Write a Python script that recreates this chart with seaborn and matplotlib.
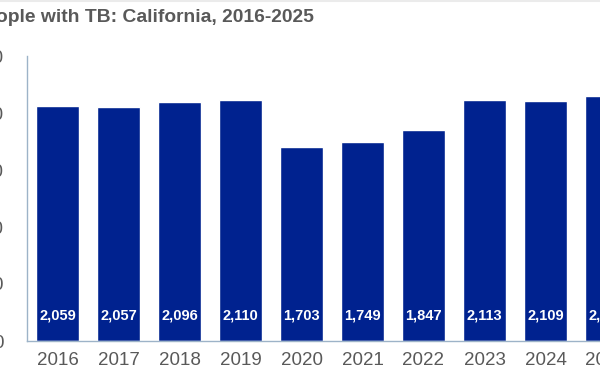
import matplotlib
matplotlib.use("Agg")
import matplotlib.pyplot as plt
import seaborn as sns
import pandas as pd
from matplotlib.ticker import FuncFormatter

years = ["2016", "2017", "2018", "2019", "2020", "2021", "2022", "2023", "2024", "2025"]
cases = [2059, 2057, 2096, 2110, 1703, 1749, 1847, 2113, 2109, 2147]
value_labels = ["2,059", "2,057", "2,096", "2,110", "1,703", "1,749", "1,847", "2,113", "2,109", "2,147"]
title = "Number of People with TB: California, 2016-2025"

df = pd.DataFrame({"year": years, "cases": cases})

sns.set_theme(style="white")
plt.rcParams["font.family"] = ["Liberation Sans", "DejaVu Sans"]

fig = plt.figure(figsize=(6, 3.85), dpi=100)
ax = fig.add_axes([27 / 600, 44 / 385, 610 / 600, 285 / 385])

sns.barplot(data=df, x="year", y="cases", color="#00228F", saturation=1,
            width=0.69, ax=ax)

ax.set_xlim(-0.5, 9.5)
ax.set_ylim(0, 2500)
ax.set_yticks([0, 500, 1000, 1500, 2000, 2500])
ax.yaxis.set_major_formatter(FuncFormatter(lambda v, p: f"{int(v):,}"))
ax.set_xlabel("")
ax.set_ylabel("")
ax.tick_params(axis="both", length=0, labelsize=13.5, colors="#595959")
ax.tick_params(axis="y", pad=17)
ax.tick_params(axis="x", pad=8)

for side in ["top", "right"]:
    ax.spines[side].set_visible(False)
for side in ["left", "bottom"]:
    ax.spines[side].set_color("#9DB3C8")
    ax.spines[side].set_linewidth(1.0)

trans = ax.get_xaxis_transform()
for i, lab in enumerate(value_labels):
    ax.text(i, 0.088, lab, transform=trans, ha="center", va="center",
            color="white", fontsize=10.5, fontweight="bold")

fig.text(314 / 600, 1 - 18 / 385, title, ha="right", va="center",
         fontsize=13.9, fontweight="bold", color="#595959")

fig.add_artist(plt.Line2D([0, 1], [1 - 1 / 385, 1 - 1 / 385], color="#EBEBEB",
                          linewidth=1.5, transform=fig.transFigure))

fig.savefig("out.png", dpi=100)
